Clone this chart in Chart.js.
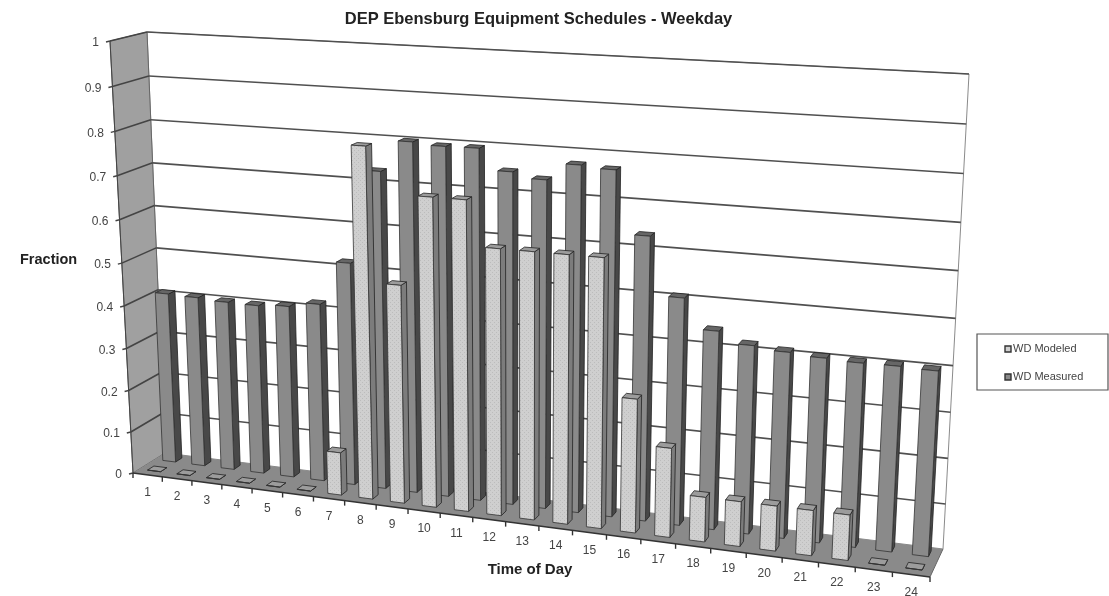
<!DOCTYPE html>
<html>
<head>
<meta charset="utf-8">
<title>DEP Ebensburg Equipment Schedules - Weekday</title>
<script src="https://cdn.jsdelivr.net/npm/chart.js@4"></script>
<style>
  html, body { margin: 0; padding: 0; background: #fff; }
  canvas { display: block; }
</style>
</head>
<body>
<canvas id="chart-schedule" width="1109" height="596"></canvas>
<script>
const hours = ['1','2','3','4','5','6','7','8','9','10','11','12','13','14','15','16','17','18','19','20','21','22','23','24'];
const wdModeled  = [0, 0, 0, 0, 0, 0, 0.1, 0.8, 0.5, 0.7, 0.7, 0.6, 0.6, 0.6, 0.6, 0.3, 0.2, 0.1, 0.1, 0.1, 0.1, 0.1, 0, 0];
const wdMeasured = [0.407, 0.405, 0.401, 0.4, 0.405, 0.417, 0.518, 0.73, 0.8, 0.795, 0.796, 0.75, 0.738, 0.775, 0.77, 0.634, 0.507, 0.442, 0.418, 0.411, 0.406, 0.403, 0.404, 0.402];

// corners of the 3D box on screen: [x=first, y=0], [x=last, y=0], [x=last, y=1], [x=first, y=1]
const frontPlane = [[133, 473], [930, 577], [957, 88], [110, 41]];
const backPlane  = [[165, 453], [943, 549], [969, 74], [147, 32]];

// depth slots of the two rows, 0 is the front edge of the floor
const modeledDepth  = [0.2, 0.4];
const measuredDepth = [0.68, 0.88];

const FONT = '"Liberation Sans", Arial, sans-serif';

// unit square -> quad
function makeHomography(q) {
  const [[x0, y0], [x1, y1], [x2, y2], [x3, y3]] = q;
  const dx1 = x1 - x2, dx2 = x3 - x2, sx = x0 - x1 + x2 - x3;
  const dy1 = y1 - y2, dy2 = y3 - y2, sy = y0 - y1 + y2 - y3;
  const den = dx1 * dy2 - dx2 * dy1;
  const g = (sx * dy2 - dx2 * sy) / den;
  const h = (dx1 * sy - sx * dy1) / den;
  const a = x1 - x0 + g * x1, b = x3 - x0 + h * x3;
  const d = y1 - y0 + g * y1, e = y3 - y0 + h * y3;
  return (u, v) => {
    const w = g * u + h * v + 1;
    return [(a * u + b * v + x0) / w, (d * u + e * v + y0) / w];
  };
}
const front = makeHomography(frontPlane);
const back = makeHomography(backPlane);

function project(u, v, z) {
  const f = front(u, v), b = back(u, v);
  return [f[0] + (b[0] - f[0]) * z, f[1] + (b[1] - f[1]) * z];
}

function quad(ctx, pts, fill, stroke, lw) {
  ctx.beginPath();
  pts.forEach((p, i) => i ? ctx.lineTo(p[0], p[1]) : ctx.moveTo(p[0], p[1]));
  ctx.closePath();
  if (fill) { ctx.fillStyle = fill; ctx.fill(); }
  if (stroke) { ctx.strokeStyle = stroke; ctx.lineWidth = lw || 1; ctx.stroke(); }
}

function line(ctx, a, b, color, lw) {
  ctx.beginPath();
  ctx.moveTo(a[0], a[1]);
  ctx.lineTo(b[0], b[1]);
  ctx.strokeStyle = color;
  ctx.lineWidth = lw;
  ctx.stroke();
}

function speckle(ctx) {
  const c = document.createElement('canvas');
  c.width = c.height = 4;
  const g = c.getContext('2d');
  g.fillStyle = '#cfcfcf';
  g.fillRect(0, 0, 4, 4);
  g.fillStyle = '#bcbcbc';
  g.fillRect(0, 0, 1, 1);
  g.fillRect(2, 2, 1, 1);
  return ctx.createPattern(c, 'repeat');
}

const box3d = {
  id: 'box3d',
  beforeDatasetsDraw(chart) {
    const { ctx, chartArea: area, scales: { x: xs, y: ys } } = chart;
    const toU = px => (px - area.left) / area.width;
    const toV = py => (area.bottom - py) / area.height;

    ctx.save();

    // walls and floor
    quad(ctx, [back(0, 0), back(1, 0), back(1, 1), back(0, 1)], '#fff', '#8a8a8a', 1);
    quad(ctx, [front(0, 0), back(0, 0), back(0, 1), front(0, 1)], '#a0a0a0', '#666', 1);
    quad(ctx, [front(0, 0), front(1, 0), back(1, 0), back(0, 0)], '#8a8a8a', null);
    line(ctx, back(1, 0), front(1, 0), '#666', 1);

    // value gridlines along the side wall and back wall
    ys.ticks.forEach(t => {
      const v = toV(ys.getPixelForValue(t.value));
      if (t.value > 0) {
        line(ctx, back(0, v), back(1, v), '#505050', 1.6);
        line(ctx, front(0, v), back(0, v), '#444', 1.6);
      }
      const p = front(0, v);
      line(ctx, p, [p[0] - 4, p[1] + 1], '#444', 1.4);
      ctx.font = '12px ' + FONT;
      ctx.fillStyle = '#444';
      ctx.textAlign = 'right';
      ctx.textBaseline = 'middle';
      ctx.fillText(t.label, p[0] - 11, p[1] + 2);
    });
    line(ctx, front(0, 0), front(0, 1), '#444', 1);

    // category ticks and labels under the front edge
    hours.forEach((h, i) => {
      const mid = front(toU(xs.getPixelForValue(i)), 0);
      const edge = front(toU(xs.getPixelForValue(i - 0.5)), 0);
      line(ctx, edge, [edge[0], edge[1] + 5], '#333', 1.4);
      ctx.font = '12px ' + FONT;
      ctx.fillStyle = '#444';
      ctx.textAlign = 'center';
      ctx.textBaseline = 'middle';
      ctx.fillText(xs.getLabelForValue(i), mid[0], mid[1] + 18);
    });
    const last = front(toU(xs.getPixelForValue(hours.length - 0.5)), 0);
    line(ctx, last, [last[0], last[1] + 5], '#333', 1.4);
    line(ctx, front(0, 0), front(1, 0), '#333', 1.6);

    // rear row first, then the front row over it
    [1, 0].forEach(di => {
      const ds = chart.data.datasets[di];
      const [z0, z1] = ds.depth;
      chart.getDatasetMeta(di).data.forEach(bar => {
        const uL = toU(bar.x - bar.width / 2), uR = toU(bar.x + bar.width / 2);
        const vT = toV(bar.y), vB = toV(bar.base);
        const a = project(uL, vB, z0), b = project(uR, vB, z0);
        const c = project(uR, vT, z0), d = project(uL, vT, z0);
        const e = project(uR, vB, z1), f = project(uR, vT, z1), g = project(uL, vT, z1);
        quad(ctx, [b, e, f, c], ds.sideColor, '#222', 0.8);
        quad(ctx, [d, c, f, g], ds.topColor, '#222', 0.8);
        quad(ctx, [a, b, c, d], ds.faceFill || ds.backgroundColor, '#333', 0.8);
      });
    });

    // axis titles
    ctx.fillStyle = '#222';
    ctx.font = 'bold 14.5px ' + FONT;
    ctx.textBaseline = 'middle';
    ctx.textAlign = 'left';
    ctx.fillText(ys.options.title.text, 20, 260);
    ctx.textAlign = 'center';
    ctx.font = 'bold 15px ' + FONT;
    ctx.fillText(xs.options.title.text, 530, 570);

    // legend box
    quad(ctx, [[977, 334], [1108, 334], [1108, 390], [977, 390]], '#fff', '#555', 1.2);
    ctx.font = '11px ' + FONT;
    ctx.textAlign = 'left';
    chart.data.datasets.forEach((ds, i) => {
      const ly = 349 + i * 28;
      quad(ctx, [[1005, ly - 3], [1011, ly - 3], [1011, ly + 3], [1005, ly + 3]], ds.backgroundColor, '#333', 1.4);
      ctx.fillStyle = '#444';
      ctx.fillText(ds.label, 1013, ly);
    });

    ctx.restore();
    return false; // the bars are already painted in 3D
  }
};

const canvas = document.getElementById('chart-schedule');
const ctx2d = canvas.getContext('2d');

new Chart(canvas, {
  type: 'bar',
  data: {
    labels: hours,
    datasets: [
      { label: 'WD Modeled', data: wdModeled, depth: modeledDepth, backgroundColor: '#d0d0d0', faceFill: speckle(ctx2d), sideColor: '#7c7c7c', topColor: '#9c9c9c' },
      { label: 'WD Measured', data: wdMeasured, depth: measuredDepth, backgroundColor: '#8a8a8a', sideColor: '#484848', topColor: '#666' }
    ]
  },
  options: {
    responsive: false,
    animation: false,
    layout: { padding: { top: 10, right: 32 } },
    datasets: { bar: { grouped: false, barPercentage: 0.44, categoryPercentage: 1 } },
    plugins: {
      legend: { display: false },
      tooltip: { enabled: false },
      title: {
        display: true,
        fullSize: false,
        text: 'DEP Ebensburg Equipment Schedules - Weekday',
        color: '#222',
        font: { family: FONT, size: 16.5, weight: 'bold' },
        padding: { top: 0, bottom: 6 }
      }
    },
    scales: {
      x: { display: false, title: { text: 'Time of Day' } },
      y: {
        display: false, min: 0, max: 1,
        ticks: { stepSize: 0.1, callback: v => String(+v.toFixed(1)) },
        title: { text: 'Fraction' }
      }
    }
  },
  plugins: [box3d]
});
</script>
</body>
</html>
